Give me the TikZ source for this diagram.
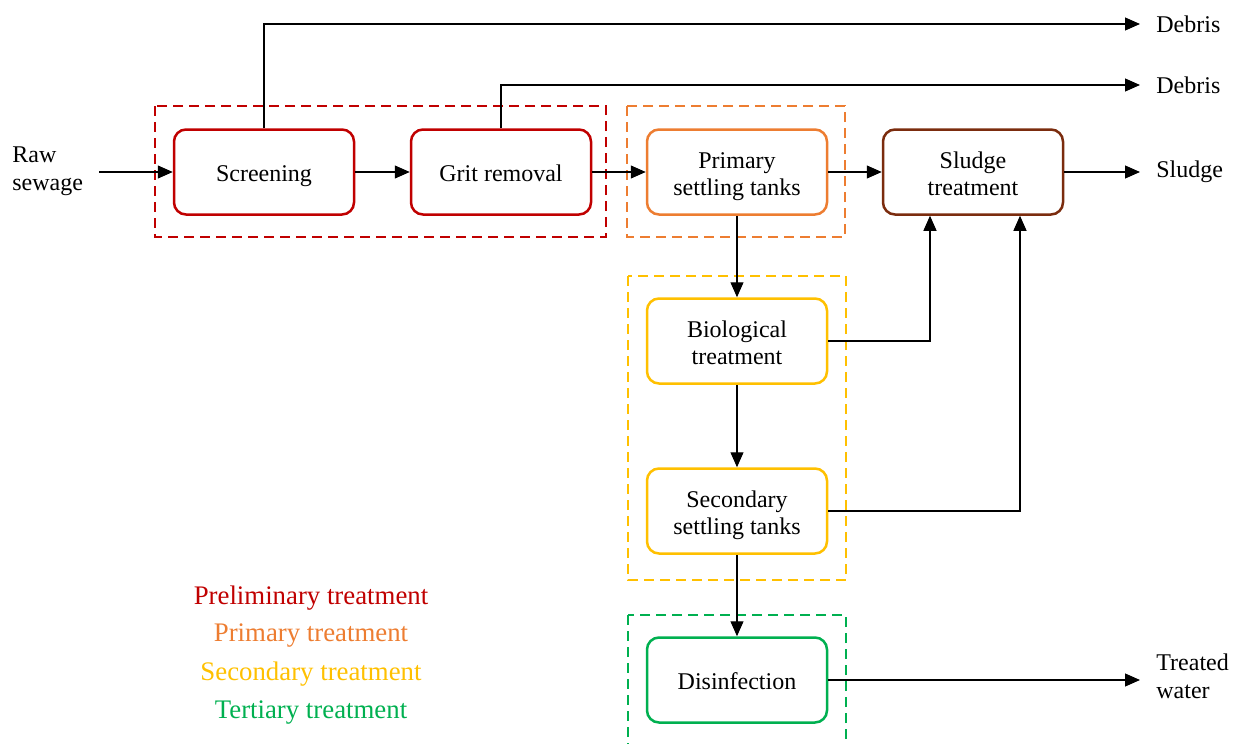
\documentclass[tikz,border=0pt]{standalone}
\usepackage{fontspec}
\setmainfont{Liberation Serif}
\usetikzlibrary{arrows.meta}
\definecolor{cRed}{HTML}{C00000}
\definecolor{cOrange}{HTML}{ED7D31}
\definecolor{cYellow}{HTML}{FFC000}
\definecolor{cGreen}{HTML}{00B050}
\definecolor{cBrown}{HTML}{7B2C0E}
\tikzset{
  proc/.style={draw=#1, line width=1.25pt, rounded corners=6pt, minimum width=90pt, minimum height=42.5pt, align=center, font=\fontsize{12}{13.3}\selectfont, fill=white, text=black, text height=11pt, text depth=2pt},
  proctwo/.style={proc=#1, text height=25pt, text depth=1.6pt},
  grp/.style={draw=#1, line width=1.4pt, dash pattern=on 5pt off 3pt},
  conn/.style={line width=0.6pt, -{Triangle[length=7.5pt,width=6.5pt]}},
  lbl/.style={font=\fontsize{12}{14}\selectfont, align=left, inner xsep=8pt, inner ysep=0pt},
  legend/.style={font=\fontsize{13.4}{16}\selectfont, inner sep=0pt}
}
\begin{document}
\begin{tikzpicture}[x=0.5pt,y=-0.5pt]
\useasboundingbox (0,0) rectangle (1239,744);
\begin{scope}
\clip (0,0) rectangle (1239,744);
% group boxes
\draw[grp=cRed] (155,106) rectangle (606,237);
\draw[grp=cOrange] (627,106) rectangle (845,237);
\draw[grp=cYellow] (628,276) rectangle (846,580);
\draw[grp=cGreen] (628,615) rectangle (846,760);
\end{scope}
% process nodes
\node[proc=cRed] (scr) at (264,172) {Screening};
\node[proc=cRed] (grit) at (501,172) {Grit removal};
\node[proctwo=cOrange] (pst) at (737,172) {Primary\\settling tanks};
\node[proctwo=cBrown] (sl) at (973,172) {Sludge\\treatment};
\node[proctwo=cYellow] (bio) at (737,341) {Biological\\treatment};
\node[proctwo=cYellow] (sec) at (737,511) {Secondary\\settling tanks};
\node[proc=cGreen] (dis) at (737,680) {Disinfection};
% labels
\node[lbl, anchor=west] (raw) at (-4,171) {Raw\\sewage};
\node[lbl, anchor=west] (deb1) at (1140,24) {Debris};
\node[lbl, anchor=west] (deb2) at (1140,85) {Debris};
\node[lbl, anchor=west] (sludge) at (1140,172) {Sludge};
\node[lbl, anchor=west] (tw) at (1140,676) {Treated\\water};
% connectors
\draw[conn] (raw.east |- scr.west) -- (scr.west);
\draw[conn] (scr.east) -- (grit.west);
\draw[conn] (grit.east) -- (pst.west);
\draw[conn] (pst.east) -- (sl.west);
\draw[conn] (sl.east) -- (sludge.west |- sl.east);
\draw[conn] (scr.north) |- (deb1.west);
\draw[conn] (grit.north) |- (deb2.west);
\draw[conn] (pst.south) -- (bio.north);
\draw[conn] (bio.south) -- (sec.north);
\draw[conn] (sec.south) -- (dis.north);
\draw[conn] (bio.east) -| ([xshift=-21.5pt]sl.south);
\draw[conn] (sec.east) -| ([xshift=23.5pt]sl.south);
\draw[conn] (dis.east) -- (tw.west |- dis.east);
% legend
\node[legend, text=cRed] (l1) at (311,598) {Preliminary treatment};
\node[legend, text=cOrange] (l2) at (311,636) {Primary treatment};
\node[legend, text=cYellow] (l3) at (311,674) {Secondary treatment};
\node[legend, text=cGreen] (l4) at (311,713) {Tertiary treatment};
\end{tikzpicture}
\end{document}
